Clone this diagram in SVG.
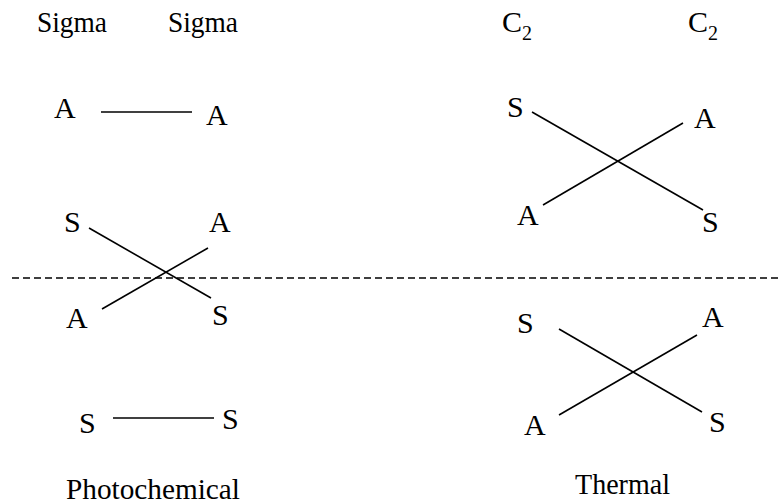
<svg xmlns="http://www.w3.org/2000/svg" width="779" height="504" viewBox="0 0 779 504">
<style>
text{font-family:"Liberation Serif","Times New Roman",serif;font-size:30px;fill:#000}
line{stroke:#000;stroke-width:1.6}
.dash{stroke-dasharray:7 4}
</style>
<rect width="779" height="504" fill="#fff"/>
<g id="headers">
<text x="37" y="32" textLength="70" lengthAdjust="spacingAndGlyphs">Sigma</text>
<text x="168" y="32" textLength="70" lengthAdjust="spacingAndGlyphs">Sigma</text>
<text x="502" y="32">C<tspan font-size="20" dy="8">2</tspan></text>
<text x="688" y="32">C<tspan font-size="20" dy="8">2</tspan></text>
</g>
<g id="connectors">
<line x1="101" y1="112" x2="192" y2="112"/>
<line x1="89" y1="228" x2="211" y2="298"/>
<line x1="102" y1="309" x2="208" y2="248"/>
<line x1="113" y1="418" x2="214" y2="418"/>
<line x1="532" y1="112" x2="703" y2="210"/>
<line x1="543" y1="205" x2="683" y2="123"/>
<line x1="559" y1="329" x2="702" y2="412"/>
<line x1="559" y1="415" x2="697" y2="335"/>
<line class="dash" x1="12" y1="278" x2="779" y2="278"/>
</g>
<g id="left-top">
<text x="54" y="118">A</text>
<text x="206" y="125">A</text>
</g>
<g id="left-middle">
<text x="64" y="232">S</text>
<text x="209" y="232">A</text>
<text x="66" y="328">A</text>
<text x="212" y="325">S</text>
</g>
<g id="left-bottom">
<text x="79" y="433">S</text>
<text x="222" y="429">S</text>
</g>
<g id="right-top">
<text x="507" y="117">S</text>
<text x="694" y="128">A</text>
<text x="517" y="225">A</text>
<text x="702" y="232">S</text>
</g>
<g id="right-bottom">
<text x="517" y="333">S</text>
<text x="702" y="327">A</text>
<text x="524" y="435">A</text>
<text x="709" y="432">S</text>
</g>
<g id="captions">
<text x="66" y="499" textLength="174" lengthAdjust="spacingAndGlyphs">Photochemical</text>
<text x="575" y="494" textLength="95" lengthAdjust="spacingAndGlyphs">Thermal</text>
</g>
</svg>
